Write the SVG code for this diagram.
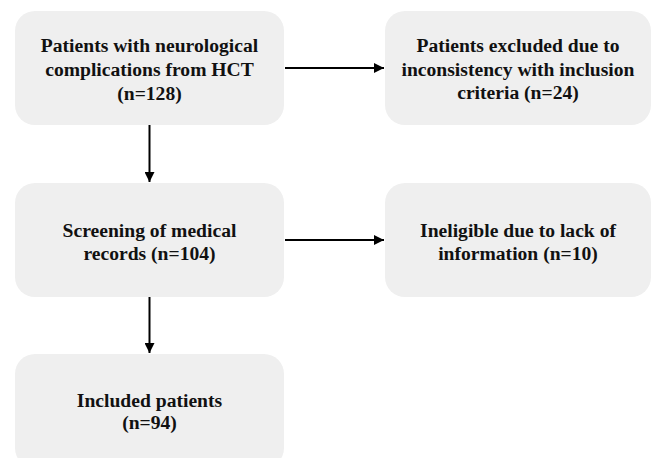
<svg xmlns="http://www.w3.org/2000/svg" width="652" height="458" viewBox="0 0 652 458">
<style>
.box{fill:#efefef;}
.t{font-family:"Liberation Serif","Times New Roman",serif;font-weight:bold;font-size:19.6px;fill:#111;text-anchor:middle;}
.c{stroke:#000;stroke-width:2;fill:none;marker-end:url(#ah);}
</style>
<defs>
<marker id="ah" viewBox="0 0 10 10" refX="10" refY="5" markerWidth="5" markerHeight="5" orient="auto" markerUnits="strokeWidth">
<path d="M0,0 L10,5 L0,10 z" fill="#000"/>
</marker>
</defs>
<rect width="652" height="458" fill="#fff"/>
<g id="n1"><rect class="box" x="15" y="11" width="269" height="114" rx="20"/>
<text class="t" x="149.5" y="52">Patients with neurological</text>
<text class="t" x="149.5" y="76">complications from HCT</text>
<text class="t" x="149.5" y="100">(n=128)</text></g>
<g id="n2"><rect class="box" x="385" y="11" width="266" height="114" rx="20"/>
<text class="t" x="518" y="52">Patients excluded due to</text>
<text class="t" x="518" y="76">inconsistency with inclusion</text>
<text class="t" x="518" y="99">criteria (n=24)</text></g>
<g id="n3"><rect class="box" x="15" y="183" width="269" height="114" rx="20"/>
<text class="t" x="149.5" y="237">Screening of medical</text>
<text class="t" x="149.5" y="260">records (n=104)</text></g>
<g id="n4"><rect class="box" x="385" y="183" width="266" height="114" rx="20"/>
<text class="t" x="518" y="237">Ineligible due to lack of</text>
<text class="t" x="518" y="260">information (n=10)</text></g>
<g id="n5"><rect class="box" x="15" y="354" width="269" height="114" rx="20"/>
<text class="t" x="149.5" y="407">Included patients</text>
<text class="t" x="149.5" y="429">(n=94)</text></g>
<g id="connectors">
<line class="c" x1="285" y1="68" x2="384" y2="68"/>
<line class="c" x1="149.5" y1="125" x2="149.5" y2="182"/>
<line class="c" x1="285" y1="240" x2="384" y2="240"/>
<line class="c" x1="149.5" y1="297" x2="149.5" y2="353"/>
</g>
</svg>
